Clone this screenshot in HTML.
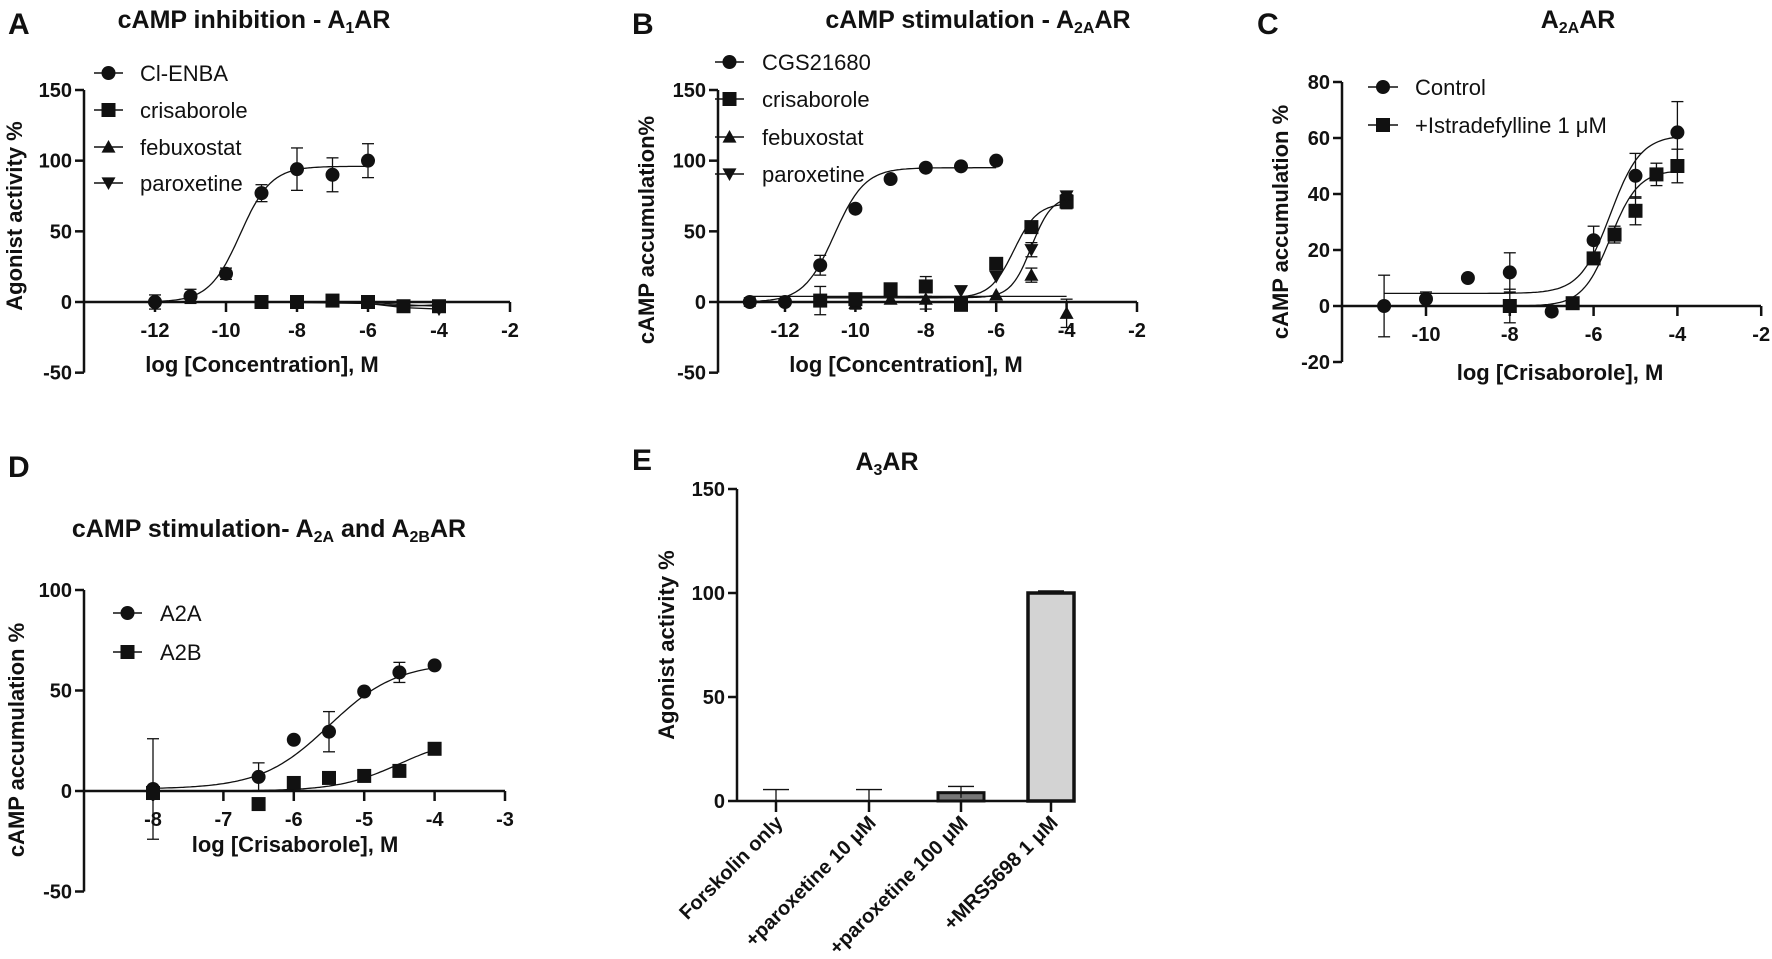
<!DOCTYPE html>
<html><head><meta charset="utf-8"><style>
html,body{margin:0;padding:0;background:#fff;}
svg{display:block;}
text{font-family:"Liberation Sans",Arial,sans-serif;fill:#111;}
.t{font-weight:bold;font-size:20px;}
.ttl{font-weight:bold;font-size:25px;}
.ax{font-weight:bold;font-size:22px;}
.lg{font-size:22px;}
.big{font-weight:bold;font-size:30px;}
</style></head><body>
<svg id="s" width="1772" height="959" viewBox="0 0 1772 959" xmlns="http://www.w3.org/2000/svg">
<text class="big" x="8" y="34">A</text>
<text class="ttl" x="254" y="28" text-anchor="middle">cAMP inhibition -  A<tspan font-size="16" dy="5">1</tspan><tspan dy="-5">AR</tspan></text>
<text class="big" x="632" y="34">B</text>
<text class="ttl" x="978" y="28" text-anchor="middle">cAMP stimulation -  A<tspan font-size="16" dy="5">2A</tspan><tspan dy="-5">AR</tspan></text>
<text class="big" x="1257" y="34">C</text>
<text class="ttl" x="1578" y="28" text-anchor="middle">A<tspan font-size="16" dy="5">2A</tspan><tspan dy="-5">AR</tspan></text>
<text class="big" x="8" y="477">D</text>
<text class="ttl" x="269" y="537" text-anchor="middle">cAMP stimulation- A<tspan font-size="16" dy="5">2A</tspan><tspan dy="-5"> and A</tspan><tspan font-size="16" dy="5">2B</tspan><tspan dy="-5">AR</tspan></text>
<text class="big" x="632" y="470">E</text>
<text class="ttl" x="887" y="470" text-anchor="middle">A<tspan font-size="16" dy="5">3</tspan><tspan dy="-5">AR</tspan></text>
<g id="g"></g>
</svg>
<script>
var g=document.getElementById('g'),h='';
function L(x1,y1,x2,y2,w){h+='<line x1="'+x1+'" y1="'+y1+'" x2="'+x2+'" y2="'+y2+'" stroke="#111" stroke-width="'+(w||1.5)+'"/>';}
function T(x,y,s,c,a,extra){h+='<text class="'+c+'" x="'+x+'" y="'+y+'" text-anchor="'+(a||'middle')+'" '+(extra||'')+'>'+s+'</text>';}
function M(type,x,y,r){r=r||7;
 if(type=='c')h+='<circle cx="'+x+'" cy="'+y+'" r="'+r+'" fill="#111"/>';
 else if(type=='s')h+='<rect x="'+(x-r)+'" y="'+(y-r)+'" width="'+2*r+'" height="'+2*r+'" fill="#111"/>';
 else if(type=='u')h+='<polygon points="'+x+','+(y-r)+' '+(x+r)+','+(y+r*0.8)+' '+(x-r)+','+(y+r*0.8)+'" fill="#111"/>';
 else h+='<polygon points="'+x+','+(y+r)+' '+(x+r)+','+(y-r*0.8)+' '+(x-r)+','+(y-r*0.8)+'" fill="#111"/>';}
function E(x,y1,y2){L(x,y1,x,y2,1.3);L(x-6,y1,x+6,y1,1.3);L(x-6,y2,x+6,y2,1.3);}
function panel(o){
 var X=function(v){return o.xz+(v-o.xr)*o.xu},Y=function(v){return o.y0-v*o.yu};
 o.X=X;o.Y=Y;
 L(o.ax,Y(o.ymax),o.ax,Y(o.ymin),2.5);
 L(o.ax,Y(0),o.xe,Y(0),2.5);
 o.yt.forEach(function(v){L(o.ax-9,Y(v),o.ax,Y(v),2.5);T(o.ax-12,Y(v)+7,v,'t','end');});
 o.xt.forEach(function(v){L(X(v),Y(0),X(v),Y(0)+10,2.5);T(X(v),Y(0)+35,v,'t');});
 T(o.lx,o.ly,o.xl,'ax');
 T(0,0,o.yl,'ax','middle','transform="translate('+o.ylx+','+o.yly+') rotate(-90)"');
 return o;}
function curve(o,b,t,ec,hl,a,z){var d='';for(var i=0;i<=120;i++){var v=a+(z-a)*i/120;var y=b+(t-b)/(1+Math.pow(10,(ec-v)*hl));d+=(i?'L':'M')+o.X(v).toFixed(1)+','+o.Y(y).toFixed(1);}h+='<path d="'+d+'" fill="none" stroke="#111" stroke-width="1.3"/>';}
function pts(o,type,arr){arr.forEach(function(p){if(p[2])E(o.X(p[0]),o.Y(p[1]+p[2]),o.Y(p[1]-p[2]));M(type,o.X(p[0]),o.Y(p[1]));});}
function poly(o,arr){var d='';arr.forEach(function(p,i){d+=(i?'L':'M')+o.X(p[0])+','+o.Y(p[1]);});h+='<path d="'+d+'" fill="none" stroke="#111" stroke-width="1.3"/>';}
function leg(x1,x2,tx,y,type,s){L(x1,y,x2,y,1.5);M(type,(x1+x2)/2,y);T(tx,y+8,s,'lg','start');}

// A
var A=panel({ax:84,xe:510,xz:155,xr:-12,xu:35.5,y0:302,yu:212/150,ymax:150,ymin:-50,yt:[150,100,50,0,-50],xt:[-12,-10,-8,-6,-4,-2],lx:262,ly:372,xl:'log [Concentration], M',ylx:22,yly:216,yl:'Agonist activity %'});
curve(A,0,96,-9.6,1,-12,-6);
pts(A,'c',[[-12,0,5],[-11,4,5],[-10,20,4],[-9,77,6],[-8,94,15],[-7,90,12],[-6,100,12]]);
poly(A,[[-9,0],[-8,0],[-7,0],[-6,-1],[-5,-3],[-4,-2]]);poly(A,[[-9,0],[-6,-1],[-5,-4],[-4,-5]]);poly(A,[[-6,0],[-5,-2],[-4,-3]]);
pts(A,'s',[[-9,0],[-8,0],[-7,1],[-6,0],[-5,-3],[-4,-3]]);pts(A,'d',[[-4,-5]]);
leg(94,123,140,73,'c','Cl-ENBA');leg(94,123,140,110,'s','crisaborole');leg(94,123,140,147,'u','febuxostat');leg(94,123,140,183,'d','paroxetine');

// B
var B=panel({ax:718,xe:1137,xz:785,xr:-12,xu:35.2,y0:302,yu:212/150,ymax:150,ymin:-50,yt:[150,100,50,0,-50],xt:[-12,-10,-8,-6,-4,-2],lx:906,ly:372,xl:'log [Concentration], M',ylx:654,yly:230,yl:'cAMP accumulation%'});
curve(B,0,95,-10.6,1,-13,-6);
curve(B,3,70,-5.5,1.3,-11,-4);
curve(B,3,75,-5,1.5,-11,-4);
L(B.X(-13),B.Y(4),B.X(-4),B.Y(4),1.3);
pts(B,'c',[[-13,0,3],[-12,0],[-11,26,7],[-10,66],[-9,87],[-8,95],[-7,96],[-6,100]]);
pts(B,'u',[[-10,-1,4],[-9,2],[-8,2,7],[-6,5],[-5,19,5],[-4,-8,10]]);
pts(B,'s',[[-11,1,10],[-10,2],[-9,9],[-8,11,7],[-7,-2],[-6,27],[-5,53,4],[-4,71,5]]);
pts(B,'d',[[-7,8],[-6,18],[-5,37,5],[-4,75,3]]);
leg(715,744,762,62,'c','CGS21680');leg(715,744,762,99,'s','crisaborole');leg(715,744,762,137,'u','febuxostat');leg(715,744,762,174,'d','paroxetine');

// C
var C=panel({ax:1342,xe:1761,xz:1426,xr:-10,xu:41.9,y0:306,yu:224/80,ymax:80,ymin:-20,yt:[80,60,40,20,0,-20],xt:[-10,-8,-6,-4,-2],lx:1560,ly:380,xl:'log [Crisaborole], M',ylx:1288,yly:222,yl:'cAMP accumulation %'});
curve(C,4.5,61,-5.6,1.2,-11,-4);
curve(C,0,48.5,-5.6,1.3,-11,-4);
pts(C,'c',[[-11,0,11],[-10,2.5,2.5],[-9,10],[-8,12,7],[-7,-2],[-6,23.5,5],[-5,46.5,8],[-4,62,11]]);
pts(C,'s',[[-8,0,6],[-6.5,1],[-6,17],[-5.5,25.5,3],[-5,34,5],[-4.5,47,4],[-4,50,6]]);
leg(1368,1398,1415,87,'c','Control');leg(1368,1398,1415,125,'s','+Istradefylline 1 μM');

// D
var D=panel({ax:84,xe:505,xz:153,xr:-8,xu:70.4,y0:791,yu:201/100,ymax:100,ymin:-50,yt:[100,50,0,-50],xt:[-8,-7,-6,-5,-4,-3],lx:295,ly:852,xl:'log [Crisaborole], M',ylx:24,yly:740,yl:'cAMP accumulation %'});
curve(D,1,64,-5.5,0.9,-8,-4);
curve(D,0,27,-4.5,1,-8,-4);
pts(D,'c',[[-8,1,25],[-6.5,7,7],[-6,25.5],[-5.5,29.5,10],[-5,49.5],[-4.5,59,5],[-4,62.5]]);
pts(D,'s',[[-8,-1],[-6.5,-6.5],[-6,4],[-5.5,6.5],[-5,7.5],[-4.5,10],[-4,21,3]]);
leg(113,142,160,613,'c','A2A');leg(113,142,160,652,'s','A2B');

// E
var y0=801,yu=208/100,ax=737;
L(ax,y0-150*yu,ax,y0,2.5);L(ax,y0,1073,y0,2.5);
[150,100,50,0].forEach(function(v){L(ax-9,y0-v*yu,ax,y0-v*yu,2.5);T(ax-12,y0-v*yu+7,v,'t','end');});
T(0,0,'Agonist activity %','ax','middle','transform="translate(674,645) rotate(-90)"');
var cx=[776,869,961,1051],lab=['Forskolin only','+paroxetine 10 μM','+paroxetine 100 μM','+MRS5698 1 μM'];
cx.forEach(function(x,i){L(x,y0,x,y0+11,2.5);T(0,0,lab[i],'t','end','transform="translate('+(x+8)+',824) rotate(-45)"');});
h+='<rect x="'+(961-23)+'" y="'+(y0-4*yu)+'" width="46" height="'+4*yu+'" fill="#777" stroke="#111" stroke-width="3"/>';
h+='<rect x="'+(1051-23)+'" y="'+(y0-100*yu)+'" width="46" height="'+100*yu+'" fill="#d3d3d3" stroke="#111" stroke-width="3.5"/>';
L(776,y0,776,y0-5.5*yu,1.3);L(763,y0-5.5*yu,789,y0-5.5*yu,1.3);
L(869,y0,869,y0-5.5*yu,1.3);L(856,y0-5.5*yu,882,y0-5.5*yu,1.3);
L(961,y0-1.5*yu,961,y0-7*yu,1.3);L(948,y0-7*yu,974,y0-7*yu,1.3);
L(1051,y0-100*yu,1051,y0-101*yu,1.3);L(1038,y0-101*yu,1064,y0-101*yu,1.3);
g.innerHTML=h;
</script>
</body></html>
